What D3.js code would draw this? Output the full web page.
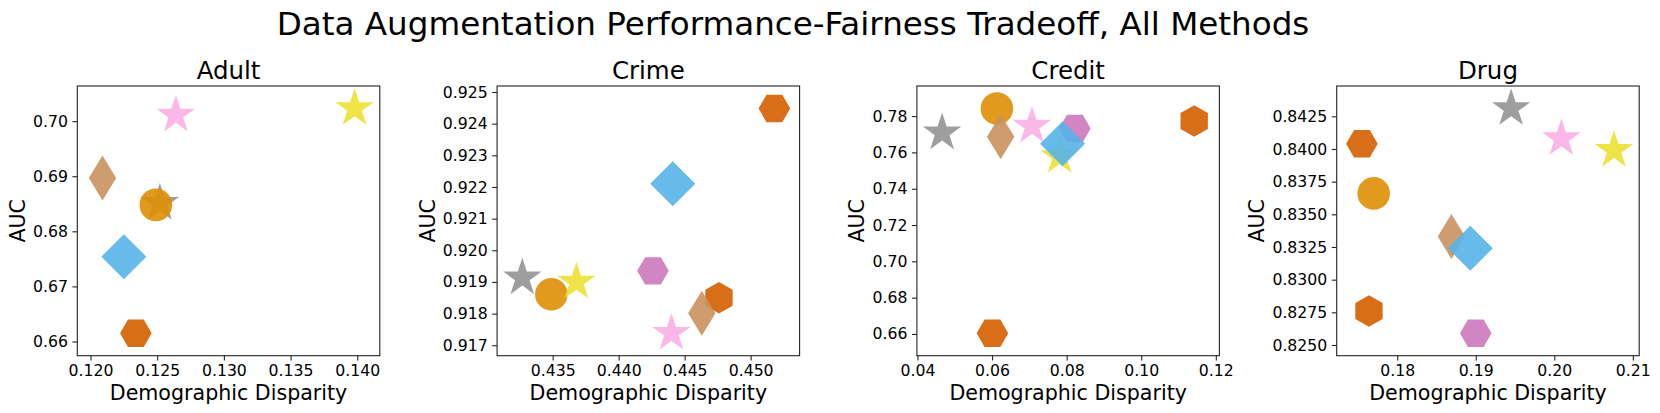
<!DOCTYPE html>
<html>
<head>
<meta charset="utf-8">
<script src="https://cdn.jsdelivr.net/npm/d3@7"></script>
<style>
	body { margin: 0; background: #fff; }
	svg text { font-family: "DejaVu Sans", sans-serif; fill: #000; }
</style>
</head>
<body>
<svg id="chart" width="1660" height="413"></svg>
<script>
// datasets shown as subplots
const datasets = ["Adult", "Crime", "Credit", "Drug"]

// methods in drawing order (no legend in the figure, so only the marker tells them apart)
const methods = ["grayStar", "orangeCircle", "vermHexFlat", "vermHexPointy", "pinkHex", "yellowStar", "pinkStar", "brownThinDiamond", "blueDiamond"]

// demographic disparity per method, one array per dataset (null = not shown)
const disparityAdult  = [0.1252, 0.1249, 0.1234, null, null, 0.1398, 0.1264, 0.1209, 0.1225]
const disparityCrime  = [0.4327, 0.4349, 0.4518, 0.4476, 0.4426, 0.4368, 0.4440, 0.4463, 0.4441]
const disparityCredit = [0.0466, 0.0613, 0.0601, 0.1142, 0.0822, 0.0781, 0.0707, 0.0623, 0.0789]
const disparityDrug   = [0.1945, 0.1770, 0.1755, 0.1764, 0.1900, 0.2076, 0.2009, 0.1869, 0.1893]

// AUC per method
const aucAdult  = [0.6851, 0.6848, 0.6615, null, null, 0.7023, 0.7011, 0.6897, 0.6754]
const aucCrime  = [0.91913, 0.91861, 0.92448, 0.91850, 0.91935, 0.91900, 0.91738, 0.91801, 0.92210]
const aucCredit = [0.7708, 0.7842, 0.6604, 0.7773, 0.7732, 0.7578, 0.7745, 0.7686, 0.7648]
const aucDrug   = [0.8431, 0.8366, 0.8404, 0.8276, 0.8259, 0.8399, 0.8408, 0.8333, 0.8324]

// tick labels
const xTicksAdult  = [0.120, 0.125, 0.130, 0.135, 0.140]
const xTicksCrime  = [0.435, 0.440, 0.445, 0.450]
const xTicksCredit = [0.04, 0.06, 0.08, 0.10, 0.12]
const xTicksDrug   = [0.18, 0.19, 0.20, 0.21]
const yTicksAdult  = [0.66, 0.67, 0.68, 0.69, 0.70]
const yTicksCrime  = [0.917, 0.918, 0.919, 0.920, 0.921, 0.922, 0.923, 0.924, 0.925]
const yTicksCredit = [0.66, 0.68, 0.70, 0.72, 0.74, 0.76, 0.78]
const yTicksDrug   = [0.8250, 0.8275, 0.8300, 0.8325, 0.8350, 0.8375, 0.8400, 0.8425]

const xFormats = [".3f", ".3f", ".2f", ".2f"]
const yFormats = [".2f", ".3f", ".2f", ".4f"]

// marker styles per method
const markerColor = ["#949494", "#DE8F05", "#D55E00", "#D55E00", "#CC78BC", "#ECE133", "#FBAFE4", "#CA9161", "#56B4E9"]
const markerShape = ["star", "circle", "hexFlat", "hexPointy", "hexFlat", "star", "star", "thinDiamond", "diamond"]

const allX = [disparityAdult, disparityCrime, disparityCredit, disparityDrug]
const allY = [aucAdult, aucCrime, aucCredit, aucDrug]
const allXTicks = [xTicksAdult, xTicksCrime, xTicksCredit, xTicksDrug]
const allYTicks = [yTicksAdult, yTicksCrime, yTicksCredit, yTicksDrug]

const svg = d3.select("#chart")

const plotLeft = 77.3
const plotStep = 419.8
const plotW = 302.5
const plotTop = 86
const plotBottom = 355.7

function shapePath(shape) {
	const p = d3.path()
	if (shape == "circle") {
		p.arc(0, 0, 16.3, 0, 2 * Math.PI)
	} else if (shape == "star") {
		const r = 20.2, ri = r * 0.381966
		for (let i = 0; i < 10; i++) {
			const a = -Math.PI / 2 + i * Math.PI / 5
			const rr = i % 2 ? ri : r
			if (i == 0) p.moveTo(rr * Math.cos(a), rr * Math.sin(a))
			else p.lineTo(rr * Math.cos(a), rr * Math.sin(a))
		}
	} else if (shape == "hexFlat" || shape == "hexPointy") {
		const r = 15.8
		const off = shape == "hexFlat" ? 0 : Math.PI / 2
		for (let i = 0; i < 6; i++) {
			const a = off + i * Math.PI / 3
			if (i == 0) p.moveTo(r * Math.cos(a), r * Math.sin(a))
			else p.lineTo(r * Math.cos(a), r * Math.sin(a))
		}
	} else if (shape == "diamond") {
		const r = 22.5
		p.moveTo(0, -r); p.lineTo(r, 0); p.lineTo(0, r); p.lineTo(-r, 0)
	} else if (shape == "thinDiamond") {
		const h = 22.5, w = 13.7
		p.moveTo(0, -h); p.lineTo(w, 0); p.lineTo(0, h); p.lineTo(-w, 0)
	}
	p.closePath()
	return p.toString()
}

// suptitle
svg.append("text")
	.attr("x", 793)
	.attr("y", 35)
	.attr("text-anchor", "middle")
	.style("font-size", "32.6px")
	.text("Data Augmentation Performance-Fairness Tradeoff, All Methods")

datasets.forEach((name, k) => {
	const left = plotLeft + k * plotStep
	const xs = allX[k], ys = allY[k]

	const pts = methods.map((m, i) => ({method: m, i: i, x: xs[i], y: ys[i]}))
		.filter(d => d.x != null && d.y != null)

	// matplotlib-ish margins around data
	const xe = d3.extent(pts, d => d.x)
	const ye = d3.extent(pts, d => d.y)
	const xm = (xe[1] - xe[0]) * 0.1
	const ym = (ye[1] - ye[0]) * 0.1

	const x = d3.scaleLinear().domain([xe[0] - xm, xe[1] + xm]).range([left, left + plotW])
	const y = d3.scaleLinear().domain([ye[0] - ym, ye[1] + ym]).range([plotBottom, plotTop])

	const g = svg.append("g")

	const clipId = "clip" + k
	g.append("clipPath").attr("id", clipId)
		.append("rect")
		.attr("x", left).attr("y", plotTop)
		.attr("width", plotW).attr("height", plotBottom - plotTop)

	g.append("g")
		.attr("clip-path", `url(#${clipId})`)
		.selectAll("path")
		.data(pts)
		.join("path")
		.attr("d", d => shapePath(markerShape[d.i]))
		.attr("fill", d => markerColor[d.i])
		.attr("fill-opacity", 0.9)
		.attr("transform", d => `translate(${x(d.x)},${y(d.y)})`)

	// axes
	const xAxis = g.append("g")
		.attr("transform", `translate(0,${plotBottom})`)
		.call(d3.axisBottom(x).tickValues(allXTicks[k]).tickFormat(d3.format(xFormats[k])).tickSize(4.9).tickPadding(4.5))
	const yAxis = g.append("g")
		.attr("transform", `translate(${left},0)`)
		.call(d3.axisLeft(y).tickValues(allYTicks[k]).tickFormat(d3.format(yFormats[k])).tickSize(4.9).tickPadding(4.5))

	for (let ax of [xAxis, yAxis]) {
		ax.select(".domain").remove()
		ax.selectAll(".tick line").attr("stroke", "#222").attr("stroke-width", 1.1)
		ax.selectAll(".tick text").style("font-size", "15.7px").style("font-family", "DejaVu Sans").attr("fill", "#000")
	}

	// frame
	g.append("rect")
		.attr("x", left).attr("y", plotTop)
		.attr("width", plotW).attr("height", plotBottom - plotTop)
		.attr("fill", "none")
		.attr("stroke", "#222")
		.attr("stroke-width", 1.1)

	// title
	g.append("text")
		.attr("x", left + plotW / 2)
		.attr("y", 79)
		.attr("text-anchor", "middle")
		.style("font-size", "24.5px")
		.text(name)

	g.append("text")
		.attr("x", left + plotW / 2)
		.attr("y", 400)
		.attr("text-anchor", "middle")
		.style("font-size", "20.6px")
		.text("Demographic Disparity")

	let maxW = 0
	yAxis.selectAll(".tick text").each(function() {
		maxW = Math.max(maxW, this.getComputedTextLength())
	})

	g.append("text")
		.attr("transform", `translate(${left - maxW - 17.5},${(plotTop + plotBottom) / 2}) rotate(-90)`)
		.attr("text-anchor", "middle")
		.style("font-size", "20.6px")
		.text("AUC")
})
</script>
</body>
</html>
